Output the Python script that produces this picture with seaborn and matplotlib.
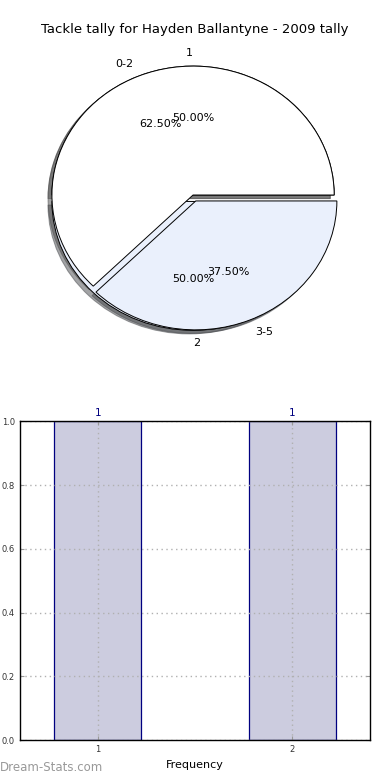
import numpy as np
import pandas as pd
import seaborn as sns
import matplotlib
matplotlib.use("Agg")
import matplotlib.pyplot as plt

# pie 1: tackle counts per game
count_labels = ['1', '2']
count_values = [1, 1]
# pie 2: tackle ranges
range_labels = ['0-2', '3-5']
range_values = [5, 3]
# bar chart
bar_x = [1, 2]
bar_heights = [1, 1]
bar_text = ['1', '1']

sns.set_style("white")
plt.rcParams['font.family'] = ['DejaVu Sans']
plt.rcParams['text.color'] = 'black'

fig = plt.figure(figsize=(3.9, 7.8), dpi=100)

## PIE
ax1 = fig.add_axes([0.068, 0.555, 0.854, 0.39])
pie_colors = ['white', '#eaf0fc']
ax1.pie(count_values, labels=count_labels, colors=pie_colors, explode=(0, 0.05),
        autopct='%.2f%%', shadow=True, startangle=0,
        wedgeprops=dict(edgecolor='black', linewidth=0.7),
        textprops=dict(fontsize=8, color='black'))
ax1.pie(range_values, labels=range_labels, colors=pie_colors, explode=(0, 0.05),
        autopct='%.2f%%', shadow=True, startangle=0,
        wedgeprops=dict(edgecolor='black', linewidth=0.7),
        textprops=dict(fontsize=8, color='black'))
ax1.set_aspect('auto')
ax1.set_xlim(-1.18, 1.18)
ax1.set_ylim(-1.18, 1.18)
fig.text(0.5, 0.962, 'Tackle tally for Hayden Ballantyne - 2009 tally',
         ha='center', va='center', fontsize=9.5, color='black')

## BARS
ax2 = fig.add_axes([0.051, 0.051, 0.898, 0.409])
df = pd.DataFrame({'x': bar_x, 'y': bar_heights})
sns.barplot(data=df, x='x', y='y', native_scale=True, width=0.45,
            color='#ccccdf', saturation=1, edgecolor='navy', linewidth=0.9, ax=ax2)
ax2.set_xlim(0.6, 2.4)
ax2.set_ylim(0, 1.0)
ax2.set_xticks(bar_x)
ax2.set_xticklabels([str(v) for v in bar_x])
ax2.set_yticks(np.arange(0, 1.01, 0.2))
ax2.set_yticklabels(['%.1f' % v for v in np.arange(0, 1.01, 0.2)])
ax2.tick_params(labelsize=6, labelcolor='#333333', direction='in', length=3,
                color='#999999', right=True, top=True, left=True, bottom=True)
ax2.grid(True, linestyle=(0, (1, 2.5)), color='#b0b0b0', linewidth=1)
ax2.set_axisbelow(False)
for s in ax2.spines.values():
    s.set_color('black')
    s.set_linewidth(1)
    s.set_zorder(5)
for xv, hv, t in zip(bar_x, bar_heights, bar_text):
    ax2.text(xv, hv + 0.01, t, ha='center', va='bottom', fontsize=7.5, color='navy')
ax2.set_xlabel('Frequency', fontsize=8, labelpad=4, color='black')
ax2.set_ylabel('')

fig.text(0.0, 0.008, 'Dream-Stats.com', fontsize=8.5, color='#999999',
         ha='left', va='bottom')

plt.savefig('out.png', dpi=100)
